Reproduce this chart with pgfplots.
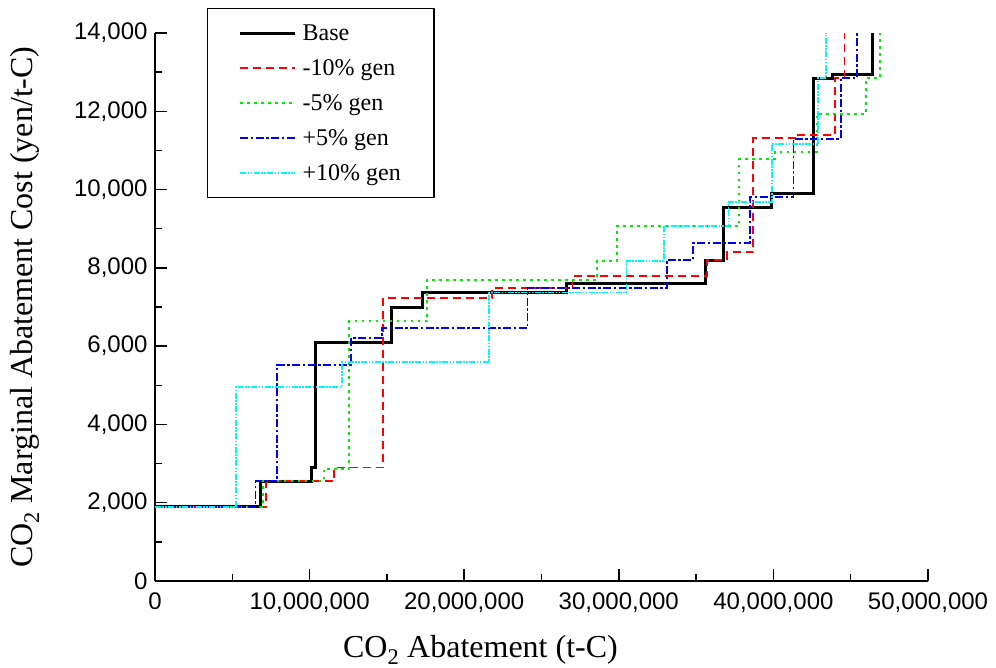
\documentclass[border=0pt]{standalone}
\usepackage{fontspec}
\setmainfont{Liberation Serif}
\setsansfont{Liberation Sans}
\usepackage{pgfplots}
\pgfplotsset{compat=1.18}
\usetikzlibrary{calc}

\definecolor{cgreen}{RGB}{0,235,0}
\definecolor{cblue}{RGB}{0,0,240}
\definecolor{ccyan}{RGB}{0,245,255}

\begin{document}
\begin{tikzpicture}
\begin{axis}[
  scale only axis, width=773pt, height=548pt,
  xmin=0, xmax=50000000, ymin=0, ymax=14000,
  axis x line*=bottom, axis y line*=left,
  axis line style={line width=1.5pt, -},
  every tick/.style={black, line width=1.5pt},
  tick align=inside,
  major tick length=12pt, minor tick length=7pt,
  xtick={0,10000000,20000000,30000000,40000000,50000000},
  ytick={0,2000,4000,6000,8000,10000,12000,14000},
  minor x tick num=1, minor y tick num=1,
  scaled x ticks=false, scaled y ticks=false,
  /pgf/number format/.cd, fixed, precision=0, 1000 sep={,}, assume math mode=true,
  /pgfplots/.cd,
  tick label style={font=\sffamily\fontsize{24}{28}\selectfont},
  xticklabel style={yshift=-8pt},
  yticklabel style={xshift=-4pt},
  label style={font=\rmfamily\fontsize{32}{36}\selectfont},
  xlabel={CO\textsubscript{2} Abatement (t-C)},
  ylabel={CO\textsubscript{2} Marginal Abatement Cost (yen/t-C)},
  xlabel style={at={(axis description cs:0.421,-0.126)}, anchor=center},
  ylabel style={at={(axis description cs:-0.168,0.5)}, anchor=center},
  legend style={at={(0.0673,1.0456)}, anchor=north west, draw=black, line width=1.3pt,
    font=\rmfamily\fontsize{24}{28}\selectfont, inner xsep=31pt, inner ysep=14pt,
    row sep=13.5pt, cells={anchor=west},
    /tikz/every odd column/.append style={column sep=4pt}},
  legend image code/.code={\draw[#1] plot coordinates {(0pt,0pt) (27pt,0pt) (55pt,0pt)};},
]
\coordinate (bl) at (rel axis cs:0,0);
\coordinate (tr) at (rel axis cs:1,1);
\addplot[const plot, black, line width=3pt] coordinates {
  (0,1900) (6800000,2550) (10100000,2900) (10350000,6100) (15300000,7000)
  (17300000,7370) (26600000,7610) (35600000,8200) (36800000,9550) (39900000,9890)
  (42600000,12850) (43800000,12950) (46400000,14000)};
\addlegendentry{Base}
\addplot[const plot, red, line width=1.8pt, dash pattern=on 8pt off 5pt] coordinates {
  (0,1900) (7200000,2550) (11600000,2900) (14750000,7240) (21800000,7490)
  (27000000,7790) (35700000,8200) (37000000,8400) (38700000,11310) (41500000,11400)
  (44000000,12850) (44600000,14000)};
\addlegendentry{-10\% gen}
\addplot[const plot, cgreen, line width=2pt, dash pattern=on 2.5pt off 4.5pt] coordinates {
  (0,1900) (7000000,2550) (10900000,2860) (12550000,6630) (17600000,7690)
  (28600000,8180) (29900000,9070) (37800000,10780) (40100000,10970) (42800000,11930)
  (46000000,12850) (46900000,14000)};
\addlegendentry{-5\% gen}
\addplot[const plot, cblue, line width=1.8pt, dash pattern=on 8pt off 2.5pt on 2.5pt off 2.5pt] coordinates {
  (0,1900) (6500000,2550) (7900000,5520) (12700000,6210) (14700000,6470)
  (24100000,7480) (33100000,8200) (34800000,8640) (38500000,9820) (41300000,11290)
  (44350000,12850) (45400000,14000)};
\addlegendentry{+5\% gen}
\addplot[const plot, ccyan, line width=1.8pt, dash pattern=on 6pt off 1.5pt on 1.5pt off 1.5pt on 1.5pt off 1.5pt] coordinates {
  (0,1900) (5240000,4960) (12100000,5600) (21600000,7370) (30500000,8180)
  (32900000,9070) (37100000,9680) (39900000,11160) (42900000,12850) (43400000,14000)};
\addlegendentry{+10\% gen}
\end{axis}
\pgfresetboundingbox
\path[use as bounding box] ($(bl)+(-155pt,-86pt)$) rectangle ($(tr)+(68pt,33pt)$);
\end{tikzpicture}
\end{document}
